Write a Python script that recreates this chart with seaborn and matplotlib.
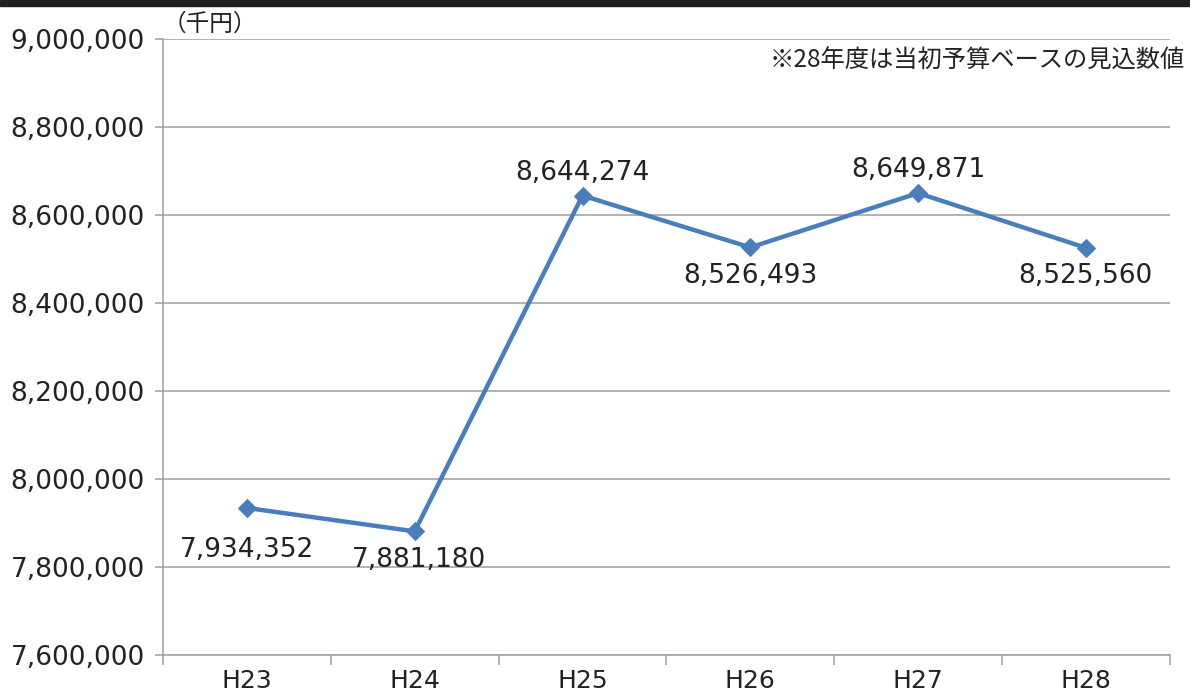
import numpy as np
import pandas as pd
import matplotlib
matplotlib.use("Agg")
import matplotlib.pyplot as plt
import seaborn as sns
from matplotlib.ticker import FuncFormatter, FixedLocator

# Data
years = ["H23", "H24", "H25", "H26", "H27", "H28"]
values = [7934352, 7881180, 8644274, 8526493, 8649871, 8525560]
label_side = ["below", "below", "above", "below", "above", "below"]

df = pd.DataFrame({"year": years, "value": values})

sns.set_style("white")
plt.rcParams["font.family"] = ["DejaVu Sans", "Noto Sans CJK JP"]

fig = plt.figure(figsize=(11.9, 6.91), dpi=100)
ax = fig.add_axes([0.137, 0.052, 0.846, 0.8915])

line_color = "#4a7ebb"
sns.lineplot(data=df, x="year", y="value", ax=ax, color=line_color, linewidth=3.2,
             marker="D", markersize=9, markeredgecolor=line_color, sort=False)

ax.set_ylim(7600000, 9000000)
ax.set_xlim(-0.5, len(years) - 0.5)
ax.set_yticks(np.arange(7600000, 9000001, 200000))
ax.yaxis.set_major_formatter(FuncFormatter(lambda v, p: f"{int(v):,}"))
ax.grid(axis="y", color="#a6a6a6", linewidth=1.2)
ax.grid(axis="x", visible=False)
ax.set_axisbelow(True)

for s in ["top", "right"]:
    ax.spines[s].set_visible(False)
for s in ["left", "bottom"]:
    ax.spines[s].set_color("#a6a6a6")
    ax.spines[s].set_linewidth(1.2)

ax.tick_params(axis="y", which="major", length=6, width=1.2, color="#a6a6a6",
               labelsize=19, pad=7, labelcolor="#222222", left=True)
ax.tick_params(axis="x", which="major", length=0, labelsize=18, pad=10, labelcolor="#222222")
ax.xaxis.set_minor_locator(FixedLocator(np.arange(-0.5, len(years), 1.0)))
ax.tick_params(axis="x", which="minor", length=7, width=1.2, color="#a6a6a6", bottom=True)
ax.set_xlabel("")
ax.set_ylabel("")

# data labels
for i, (v, side) in enumerate(zip(values, label_side)):
    if side == "above":
        off = (0, 7)
        va = "bottom"
    else:
        off = (3 if i == 1 else 0, -21 if i == 0 else -11)
        va = "top"
    ax.annotate(f"{v:,}", (i, v), xytext=off, textcoords="offset points",
                ha="center", va=va, fontsize=19, color="#222222")

fig.text(0.137, 0.965, "（千円）", fontsize=17, color="#222222", ha="left", va="center",
         family=["Noto Sans CJK JP", "DejaVu Sans"])
fig.text(0.996, 0.912, "※28年度は当初予算ベースの見込数値", fontsize=17.5, color="#222222",
         ha="right", va="center", family=["Noto Sans CJK JP", "DejaVu Sans"])

# black band at top edge
fig.patches.append(plt.Rectangle((0, 0.991), 1, 0.009, transform=fig.transFigure,
                                 color="#231f20", zorder=10))

fig.savefig("out.png", dpi=100)
